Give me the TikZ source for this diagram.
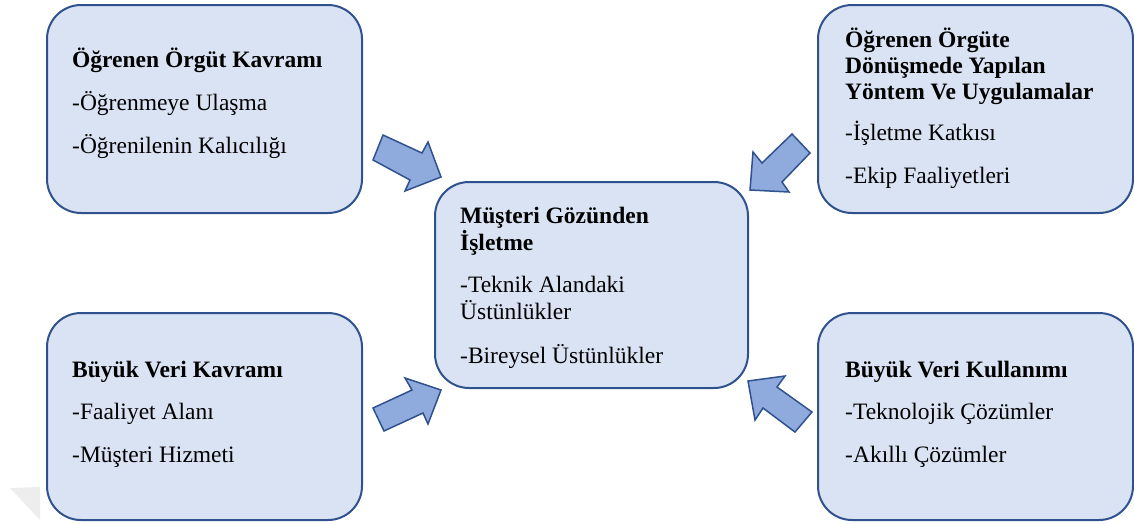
\documentclass[tikz,border=0pt]{standalone}
\usepackage{fontspec}
\setmainfont{Liberation Serif}
\definecolor{boxfill}{HTML}{DAE3F3}
\definecolor{edge}{HTML}{2F528F}
\definecolor{arrfill}{HTML}{8FAADC}
\begin{document}
\begin{tikzpicture}[x=1pt,y=-1pt,
 box/.style={draw=edge, fill=boxfill, line width=2pt, rounded corners=34pt, inner sep=0pt},
 txt/.style={anchor=base west, inner sep=0pt, font=\fontsize{23.5}{27}\selectfont},
 hd/.style={anchor=base west, inner sep=0pt, font=\fontsize{23.5}{27}\selectfont\bfseries},
 blk/.style={draw=edge, fill=arrfill, line width=1.5pt, line join=miter}]
\useasboundingbox (0,0) rectangle (1134,523);
% faint artefact
\fill[black!7] (10,488) -- (40,487) -- (40,520) -- cycle;
% boxes
\node[box, minimum width=315pt, minimum height=208pt] (tl) at (204.5,109) {};
\node[box, minimum width=315pt, minimum height=208pt] (tr) at (975.5,109) {};
\node[box, minimum width=315pt, minimum height=207pt] (bl) at (204.5,416.5) {};
\node[box, minimum width=315pt, minimum height=207pt] (br) at (975.5,416.5) {};
\node[box, minimum width=313pt, minimum height=206pt] (c) at (591.5,285) {};
% block arrows
\draw[blk] (383,135) -- (422,153) -- (428,142) -- (441,177) -- (405,191) -- (410,180) -- (373,160) -- cycle;
\draw[blk] (792,134) -- (762,163) -- (753,152) -- (750,190) -- (789,192) -- (782,182) -- (810,153) -- cycle;
\draw[blk] (373,408) -- (412,390) -- (405,378) -- (441,390) -- (428,424) -- (423,413) -- (384,431) -- cycle;
\draw[blk] (748,381) -- (785,376) -- (777,387) -- (812,412) -- (795,432) -- (763,408) -- (755,420) -- cycle;
% texts top left
\node[hd] (tl1) at (72,67) {Öğrenen Örgüt Kavramı};
\node[txt] (tl2) at (72,110) {-Öğrenmeye Ulaşma};
\node[txt] (tl3) at (72,153) {-Öğrenilenin Kalıcılığı};
% top right
\node[hd] (tr1) at (845,47) {Öğrenen Örgüte};
\node[hd] (tr2) at (845,73) {Dönüşmede Yapılan};
\node[hd] (tr3) at (845,99) {Yöntem Ve Uygulamalar};
\node[txt] (tr4) at (845,140) {-İşletme Katkısı};
\node[txt] (tr5) at (845,183) {-Ekip Faaliyetleri};
% centre
\node[hd] (c1) at (460,223) {Müşteri Gözünden};
\node[hd] (c2) at (460,250) {İşletme};
\node[txt] (c3) at (460,292) {-Teknik Alandaki};
\node[txt] (c4) at (460,319) {Üstünlükler};
\node[txt] (c5) at (460,363) {-Bireysel Üstünlükler};
% bottom left
\node[hd] (bl1) at (72,377) {Büyük Veri Kavramı};
\node[txt] (bl2) at (72,419) {-Faaliyet Alanı};
\node[txt] (bl3) at (72,462) {-Müşteri Hizmeti};
% bottom right
\node[hd] (br1) at (845,377) {Büyük Veri Kullanımı};
\node[txt] (br2) at (845,419) {-Teknolojik Çözümler};
\node[txt] (br3) at (845,462) {-Akıllı Çözümler};
\end{tikzpicture}
\end{document}
